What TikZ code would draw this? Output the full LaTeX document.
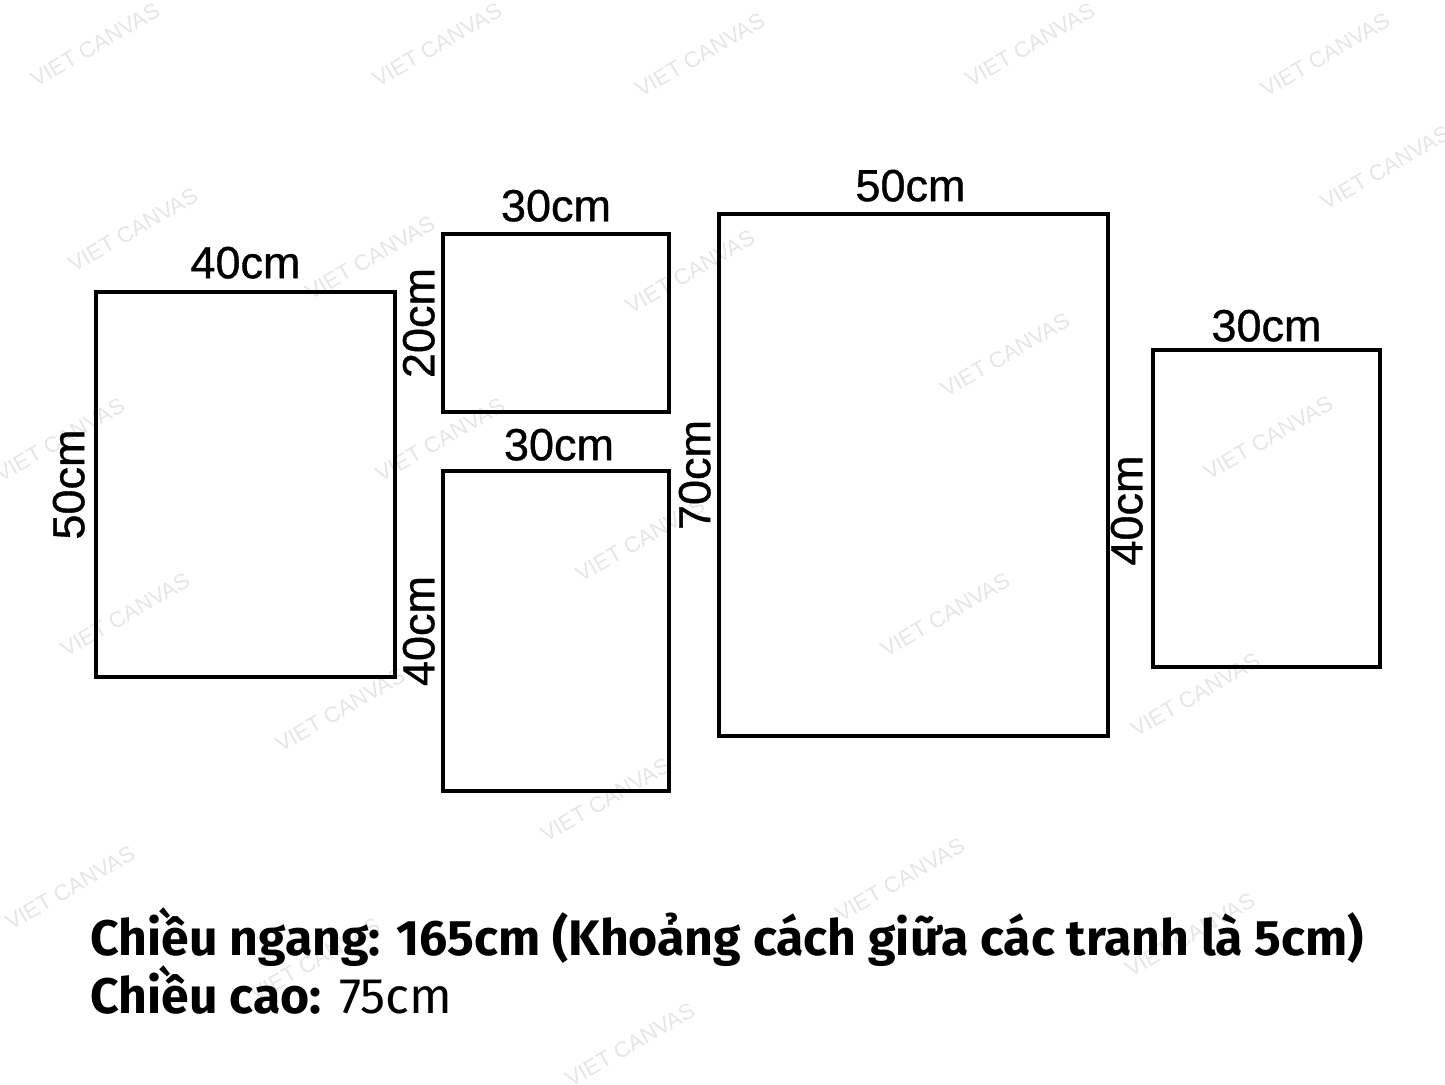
\documentclass[tikz,border=0pt]{standalone}
\usepackage{fontspec}
\setmainfont{Fira Sans}
\newfontfamily\arialfont{Liberation Sans}
\newfontfamily\sizefont[FakeBold=0.8]{Liberation Sans}
\usepackage{tikz}
\usetikzlibrary{positioning}

\begin{document}
\begin{tikzpicture}[x=0.01cm, y=-0.01cm, frame/.style={draw, line width=1.15pt, inner sep=0pt}, size/.style={font=\sizefont\fontsize{12.8}{14}\selectfont, inner sep=1pt}, side/.style={size, rotate=90, anchor=south}, wm/.style={font=\arialfont\fontsize{6.3}{7}\selectfont, text=black!10, rotate=30}]
  \useasboundingbox (0,0) rectangle (1445,1084);

  % watermark
  \foreach \x/\y in {95/45, 437/45, 700/55, 1030/45, 1325/55, 1385/168, 133/230, 370/258, 690/272, 1005/355, 60/440, 440/440, 1268/438, 640/540, 125/615, 945/615, 340/710, 1195/695, 605/800, 70/888, 900/880, 1190/935, 315/960, 630/1045}
    \node[wm] at (\x,\y) {VIET CANVAS};

  \node[frame, minimum width=2.99cm, minimum height=3.85cm] (A) at (245.5,484.5) {};
  \node[frame, minimum width=2.26cm, minimum height=1.78cm] (B) at (556,323) {};
  \node[frame, minimum width=2.26cm, minimum height=3.20cm] (C) at (556,631) {};
  \node[frame, minimum width=3.89cm, minimum height=5.22cm] (D) at (913.5,475) {};
  \node[frame, minimum width=2.27cm, minimum height=3.17cm] (E) at (1266.5,508.5) {};

  \node[size, above=0.07cm of A.north] (Aw) {40cm};
  \node[side, yshift=0.05cm] (Ah) at (A.west) {50cm};
  \node[size, above=0.06cm of B.north] (Bw) {30cm};
  \node[side, yshift=0.02cm] (Bh) at (B.west) {20cm};
  \node[size, above=0.04cm of C.north, xshift=0.03cm] (Cw) {30cm};
  \node[side, yshift=0.02cm] (Ch) at (C.west) {40cm};
  \node[size, above=0.06cm of D.north, xshift=-0.03cm] (Dw) {50cm};
  \node[side, yshift=0.02cm] (Dh) at (D.west) {70cm};
  \node[size, above=0.02cm of E.north] (Ew) {30cm};
  \node[side, yshift=0.04cm, xshift=-0.02cm] (Eh) at (E.west) {40cm};

  \node[anchor=base west, inner sep=0pt, font=\fontsize{14.2}{17}\selectfont] (note1) at (90,955) {\textbf{Chiều ngang: 165cm (Khoảng cách giữa các tranh là 5cm)}};
  \node[anchor=base west, inner sep=0pt, font=\fontsize{14.2}{17}\selectfont] (note2) at (90,1013) {\textbf{Chiều cao:} 75cm};
\end{tikzpicture}
\end{document}
